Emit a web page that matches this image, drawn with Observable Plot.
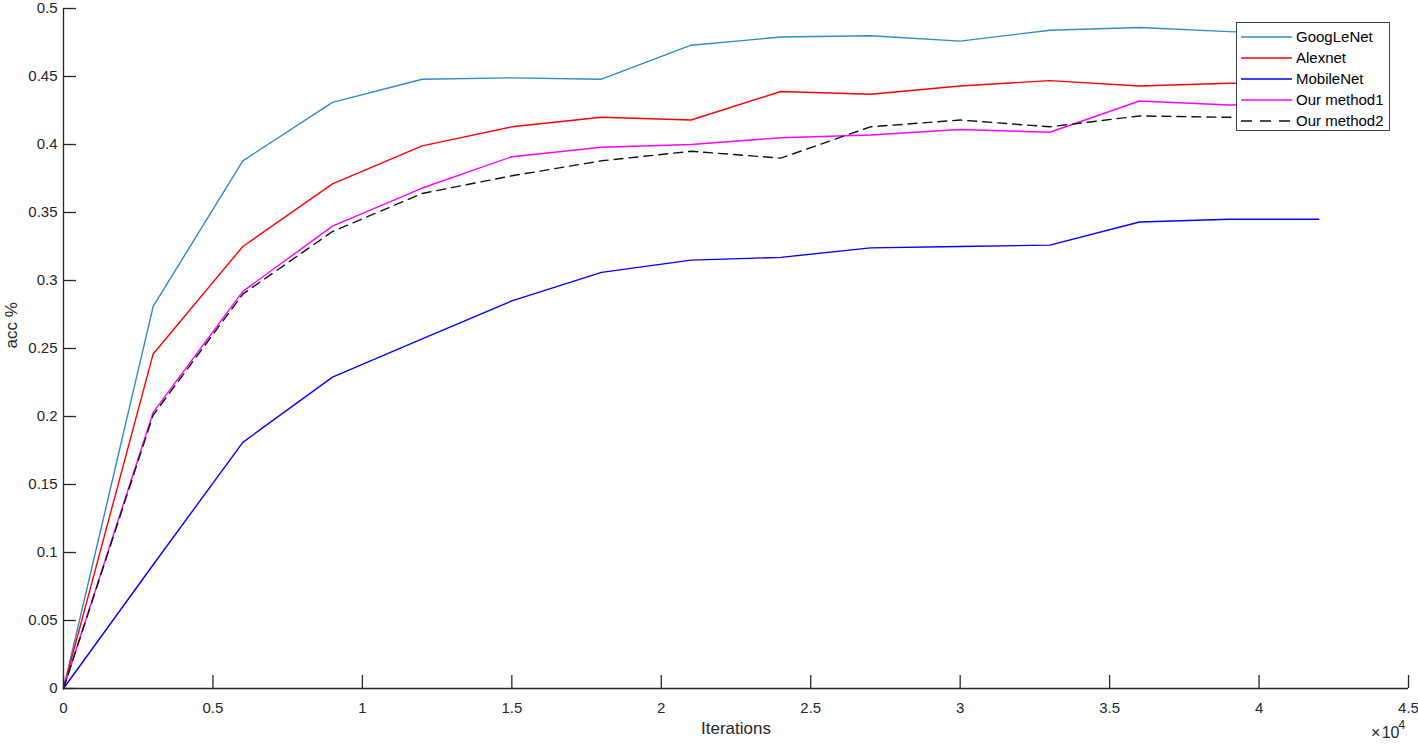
<!DOCTYPE html>
<html><head><meta charset="utf-8">
<script src="https://cdn.jsdelivr.net/npm/d3@7"></script>
<script src="https://cdn.jsdelivr.net/npm/@observablehq/plot@0.6"></script>
<style>
html,body{margin:0;padding:0;background:#fff;}
#wrap{position:relative;width:1418px;height:744px;font-family:"Liberation Sans",Arial,sans-serif;}
#legend{position:absolute;left:1236px;top:22px;width:154px;height:109px;border:1px solid #404040;background:#fff;box-sizing:border-box;}
.item{position:absolute;left:4px;height:21px;display:flex;align-items:center;font-size:15px;color:#000;white-space:nowrap;}
.item svg{margin-right:4px;}
</style></head><body><div id="wrap"></div>
<script>
// ---- data ----
const iterations = [0, 3000, 6000, 9000, 12000, 15000, 18000, 21000, 24000, 27000, 30000, 33000, 36000, 39000, 42000];
const googLeNet  = [0, 0.281, 0.388, 0.431, 0.448, 0.449, 0.448, 0.473, 0.479, 0.480, 0.476, 0.484, 0.486, 0.483, 0.481];
const alexnet    = [0, 0.246, 0.325, 0.371, 0.399, 0.413, 0.420, 0.418, 0.439, 0.437, 0.443, 0.447, 0.443, 0.445, 0.446];
const mobileNet  = [0, 0.091, 0.181, 0.229, 0.257, 0.285, 0.306, 0.315, 0.317, 0.324, 0.325, 0.326, 0.343, 0.345, 0.345];
const method1    = [0, 0.203, 0.292, 0.340, 0.368, 0.391, 0.398, 0.400, 0.405, 0.407, 0.411, 0.409, 0.432, 0.429, 0.430];
const method2    = [0, 0.201, 0.290, 0.336, 0.364, 0.377, 0.388, 0.395, 0.390, 0.413, 0.418, 0.413, 0.421, 0.420, 0.420];
const seriesNames = ["GoogLeNet", "Alexnet", "MobileNet", "Our method1", "Our method2"];
const seriesValues = [googLeNet, alexnet, mobileNet, method1, method2];
const xTicks = [0, 5000, 10000, 15000, 20000, 25000, 30000, 35000, 40000, 45000];
const yTicks = [0, 0.05, 0.1, 0.15, 0.2, 0.25, 0.3, 0.35, 0.4, 0.45, 0.5];
const xDomain = [0, 45000];
const yDomain = [0, 0.5];
const xLabel = "Iterations";
const yLabel = "acc %";
const xExponent = "4";

// ---- styles ----
const colors = ["#2f8ac8", "#ff0000", "#0000ff", "#ff00ff", "#111111"];
const dashes = [null, null, null, null, "9,6"];
const axisColor = "#262626";
const font = '"Liberation Sans", Arial, sans-serif';

const lineMarks = seriesNames.map((name, k) =>
  Plot.line(iterations.map((x, i) => ({x, y: seriesValues[k][i], name})), {
    x: "x", y: "y", stroke: colors[k], strokeWidth: 1.4,
    strokeDasharray: dashes[k] ?? undefined
  })
);

const chart = Plot.plot({
  width: 1418, height: 744,
  marginLeft: 63, marginRight: 10, marginTop: 8, marginBottom: 56,
  style: {fontFamily: font, fontSize: "15px", color: axisColor, background: "#fff", overflow: "visible"},
  x: {domain: xDomain},
  y: {domain: yDomain},
  marks: [
    ...lineMarks,
    Plot.ruleY([yDomain[0]], {stroke: axisColor, strokeWidth: 1.3}),
    Plot.ruleX([xDomain[0]], {stroke: axisColor, strokeWidth: 1.3}),
    Plot.axisX({ticks: xTicks, tickFormat: d => String(d / 1e4), tickSize: -13, tickPadding: 27, label: null, stroke: axisColor, fill: axisColor, strokeWidth: 1.3}),
    Plot.axisY({ticks: yTicks, tickFormat: d => String(+d.toFixed(2)), tickSize: -13, tickPadding: 19, label: null, stroke: axisColor, fill: axisColor, strokeWidth: 1.3}),
    Plot.text([xLabel], {frameAnchor: "bottom", dy: 45, fontSize: 17, fill: axisColor}),
    Plot.text([yLabel], {frameAnchor: "left", dx: -52, rotate: -90, fontSize: 17, fill: axisColor}),
    Plot.text(["×\u200a10"], {frameAnchor: "bottom-right", textAnchor: "end", dx: -9, dy: 49, fontSize: 16, fill: axisColor}),
    Plot.text([xExponent], {frameAnchor: "bottom-right", textAnchor: "start", dx: -10, dy: 40, fontSize: 12, fill: axisColor})
  ]
});

const wrap = document.getElementById("wrap");
wrap.appendChild(chart);

// legend overlay inside plot area
const legend = document.createElement("div");
legend.id = "legend";
seriesNames.forEach((name, k) => {
  const item = document.createElement("div");
  item.className = "item";
  item.style.top = (3 + 21 * k) + "px";
  item.innerHTML = `<svg width="51" height="4"><line x1="0" x2="51" y1="2" y2="2" stroke="${colors[k]}" stroke-width="1.4" ${dashes[k] ? `stroke-dasharray="11,8"` : ""}/></svg><span>${name}</span>`;
  legend.appendChild(item);
});
wrap.appendChild(legend);
</script>
</body></html>
